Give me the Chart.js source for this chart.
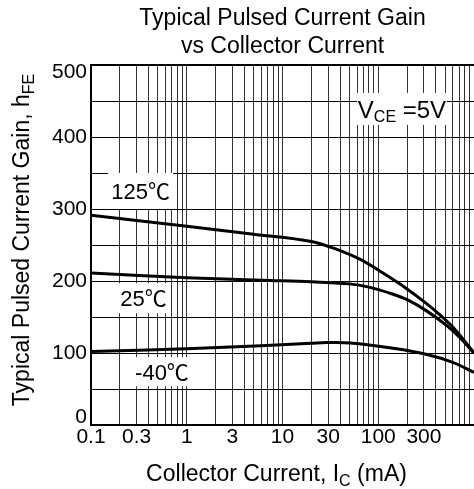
<!DOCTYPE html>
<html>
<head>
<meta charset="utf-8">
<script src="https://cdn.jsdelivr.net/npm/chart.js@4"></script>
<style>
  html, body { margin: 0; padding: 0; background: #fff; }
  #wrap { width: 474px; height: 489px; }
</style>
</head>
<body>
<div id="wrap"><canvas id="gain-chart"></canvas></div>
<script>
// Ic in mA, hFE
var ic125 = [0.1, 1, 5, 20, 37, 65, 112, 190, 310, 440, 630, 1000];
var hfe125 = [291.5, 276, 265, 255, 244, 230, 211, 191, 170, 153, 133, 100];

var ic25 = [0.1, 1, 6, 20, 50, 80, 140, 200, 320, 520, 710, 1000];
var hfe25 = [211, 204.5, 201, 199, 196, 191.5, 182, 174, 158.5, 138, 121.5, 100];

var icM40 = [0.1, 1, 6, 20, 29, 51, 143, 323, 600, 1000];
var hfeM40 = [102, 106, 110, 113.5, 114.5, 114, 106.5, 98, 87, 73];

var xTickLabels = [0.1, 0.3, 1, 3, 10, 30, 100, 300];
var yTickLabels = [0, 100, 200, 300, 400, 500];

var FONT = '"Liberation Sans", Arial, "Noto Sans CJK SC", sans-serif';

// grid lines of the log axis: 1..9 in every decade
var xGrid = [];
for (var e = -1; e < 3; e++) {
  for (var k = 1; k < 10; k++) {
    xGrid.push(Number((k * Math.pow(10, e)).toPrecision(2)));
  }
}
xGrid.push(1000);

function toPoints(xs, ys) {
  return xs.map(function (x, i) { return { x: x, y: ys[i] }; });
}

// text labels on the plot (center in data units, white box in px)
var notes = [
  { parts: [['125℃', false]], x: 0.33, y: 325, w: 65, h: 36, size: 22 },
  { parts: [['25℃', false]], x: 0.353, y: 176, w: 53, h: 30, size: 22 },
  { parts: [['-40℃', false]], x: 0.551, y: 74, w: 60, h: 29, size: 22 },
  { parts: [['V', false], ['CE', true], [' =5V', false]], x: 177, y: 439, w: 90, h: 32, size: 24 }
];

// draws text with subscripts, returns width
function drawRich(ctx, parts, x, y, size, align) {
  var subSize = Math.round(size * 0.68);
  var widths = parts.map(function (p) {
    ctx.font = (p[1] ? subSize : size) + 'px ' + FONT;
    return ctx.measureText(p[0]).width;
  });
  var total = widths.reduce(function (a, b) { return a + b; }, 0);
  var cx = align === 'left' ? x : x - total / 2;
  ctx.textAlign = 'left';
  ctx.textBaseline = 'alphabetic';
  ctx.fillStyle = '#000';
  parts.forEach(function (p, i) {
    ctx.font = (p[1] ? subSize : size) + 'px ' + FONT;
    ctx.fillText(p[0], cx, p[1] ? y + size * 0.2 : y);
    cx += widths[i];
  });
  return total;
}

var textPlugin = {
  id: 'textPlugin',
  beforeDatasetsDraw: function (chart) {
    var ctx = chart.ctx;
    var xs = chart.scales.x, ys = chart.scales.y;
    var area = chart.chartArea;
    ctx.save();
    // top frame line
    ctx.strokeStyle = '#000';
    ctx.lineWidth = 2;
    ctx.beginPath();
    ctx.moveTo(area.left, area.top);
    ctx.lineTo(area.right, area.top);
    ctx.stroke();
    // boxed notes
    notes.forEach(function (n) {
      var px = xs.getPixelForValue(n.x);
      var py = ys.getPixelForValue(n.y);
      ctx.fillStyle = '#fff';
      ctx.fillRect(px - n.w / 2, py - n.h / 2, n.w, n.h);
      drawRich(ctx, n.parts, px, py + n.size * 0.36, n.size, 'center');
    });
    ctx.restore();
  },
  afterDraw: function (chart) {
    var ctx = chart.ctx;
    var area = chart.chartArea;
    var mid = (area.left + area.right) / 2;
    ctx.save();
    drawRich(ctx, [['Typical Pulsed Current Gain', false]], mid, area.top - 40, 23, 'center');
    drawRich(ctx, [['vs Collector Current', false]], mid, area.top - 12, 23, 'center');
    drawRich(ctx, [['Collector Current, I', false], ['C', true], [' (mA)', false]], mid - 6, area.bottom + 56, 23, 'center');
    ctx.translate(area.left - 62, (area.top + area.bottom) / 2 - 5);
    ctx.rotate(-Math.PI / 2);
    drawRich(ctx, [['Typical Pulsed Current Gain, h', false], ['FE', true]], 0, 0, 23, 'center');
    ctx.restore();
  }
};

var curve = {
  borderColor: '#000',
  borderWidth: 3,
  pointRadius: 0,
  fill: false,
  tension: 0.35
};

var ctx = document.getElementById('gain-chart').getContext('2d');
var chart = new Chart(ctx, {
  type: 'line',
  data: {
    datasets: [
      Object.assign({ label: '125℃', data: toPoints(ic125, hfe125) }, curve),
      Object.assign({ label: '25℃', data: toPoints(ic25, hfe25) }, curve),
      Object.assign({ label: '-40℃', data: toPoints(icM40, hfeM40) }, curve)
    ]
  },
  options: {
    responsive: true,
    maintainAspectRatio: false,
    animation: false,
    layout: { padding: { top: 65, left: 0, right: 0, bottom: 0 } },
    plugins: {
      legend: { display: false },
      tooltip: { enabled: false }
    },
    scales: {
      x: {
        type: 'logarithmic',
        min: 0.1,
        max: 1000,
        afterBuildTicks: function (scale) {
          scale.ticks = xGrid.map(function (v) { return { value: v }; });
        },
        afterFit: function (scale) {
          scale.height = 64;
          scale.paddingLeft = 0;
          scale.paddingRight = 0;
        },
        grid: { color: '#333', lineWidth: 1, drawTicks: false },
        border: { color: '#000', width: 2 },
        ticks: {
          autoSkip: false,
          maxRotation: 0,
          minRotation: 0,
          padding: 0,
          color: '#000',
          font: { family: FONT, size: 21 },
          callback: function (v) {
            return xTickLabels.indexOf(v) >= 0 ? String(v) : '';
          }
        }
      },
      y: {
        min: 0,
        max: 500,
        afterFit: function (scale) {
          scale.width = 91;
          scale.paddingTop = 0;
          scale.paddingBottom = 0;
        },
        grid: { color: '#000', lineWidth: 1, drawTicks: false },
        border: { color: '#000', width: 2 },
        ticks: {
          stepSize: 50,
          padding: 4,
          color: '#000',
          font: { family: FONT, size: 21, lineHeight: 0.7 },
          callback: function (v) {
            if (yTickLabels.indexOf(v) < 0) return '';
            if (v === 0) return ['0', ''];
            if (v === 500) return ['', '500'];
            return String(v);
          }
        }
      }
    }
  },
  plugins: [textPlugin]
});
</script>
</body>
</html>
